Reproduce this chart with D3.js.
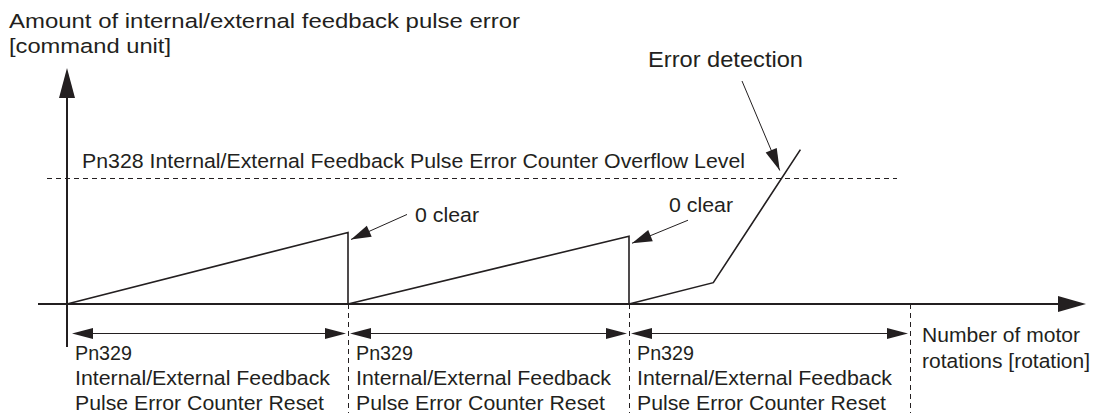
<!DOCTYPE html>
<html>
<head>
<meta charset="utf-8">
<script src="https://cdn.jsdelivr.net/npm/d3@7"></script>
<style>
  body { margin: 0; background: #fff; }
  svg text { font-family: "Liberation Sans", Arial, Helvetica, sans-serif; fill: #231f20; font-size: 20.5px; }
</style>
</head>
<body>
<div id="chart"></div>
<script>
// rotations (x) / pulse error in command units (y)
var resetPoints = [0, 1, 2, 3];
var errorX = [0, 1, 1, 2, 2, 2.3, 2.61];
var errorY = [0, 57, 0, 54, 0, 17, 123];
var overflowLevel = 100;
var clearPoints = [{x: 1, y: 57}, {x: 2, y: 54}];
var detectPoint = {x: 2.54, y: 100};

var yTitle = ["Amount of internal/external feedback pulse error", "[command unit]"];
var xTitle = ["Number of motor", "rotations [rotation]"];
var overflowLabel = "Pn328 Internal/External Feedback Pulse Error Counter Overflow Level";
var resetLabel = ["Pn329", "Internal/External Feedback", "Pulse Error Counter Reset"];

// measured text widths (the source font runs wider than Liberation Sans)
var yTitleW = [511, 162];
var xTitleW = [158, 168];
var resetLabelW = [57, 255, 249];

var width = 1100, height = 419;
var ink = "#231f20";

var x = d3.scaleLinear().domain([0, 3]).range([67, 910]);
var y = d3.scaleLinear().domain([0, 100]).range([304, 178.5]);

var svg = d3.select("#chart").append("svg")
  .attr("width", width)
  .attr("height", height);

/* filled arrow head pointing at (tx,ty) coming from (fx,fy) */
function arrowHead(g, fx, fy, tx, ty, len, half) {
  var a = Math.atan2(ty - fy, tx - fx);
  var bx = tx - len * Math.cos(a), by = ty - len * Math.sin(a);
  var px = -Math.sin(a) * half, py = Math.cos(a) * half;
  g.append("path")
    .attr("d", `M${tx},${ty}L${bx + px},${by + py}L${bx - px},${by - py}Z`)
    .attr("fill", ink);
}

function label(g, tx, ty, str, w) {
  return g.append("text")
    .attr("x", tx).attr("y", ty)
    .attr("textLength", w)
    .attr("lengthAdjust", "spacingAndGlyphs")
    .text(str);
}

/* Axes */
var axes = svg.append("g");
axes.append("line")
  .attr("x1", x(0)).attr("x2", x(0))
  .attr("y1", 347).attr("y2", y(180))
  .attr("stroke", ink).attr("stroke-width", 2);
arrowHead(axes, x(0), 300, x(0), 68, 30, 8);

axes.append("line")
  .attr("x1", 38).attr("x2", 1070)
  .attr("y1", y(0)).attr("y2", y(0))
  .attr("stroke", ink).attr("stroke-width", 2);
arrowHead(axes, 0, y(0), 1086, y(0), 28, 8);

yTitle.forEach((d, i) => label(axes, 9, 28 + i * 24.5, d, yTitleW[i]));
xTitle.forEach((d, i) => label(axes, 922, 342 + i * 26, d, xTitleW[i]));

/* Overflow level */
svg.append("line")
  .attr("x1", 47).attr("x2", 897)
  .attr("y1", y(overflowLevel)).attr("y2", y(overflowLevel))
  .attr("stroke", ink).attr("stroke-width", 1)
  .attr("stroke-dasharray", "5,4");

label(svg, 82, 168, overflowLabel, 663);

/* Error curve */
var line = d3.line()
  .x(d => x(d[0]))
  .y(d => y(d[1]));

svg.append("path")
  .attr("d", line(d3.zip(errorX, errorY)))
  .attr("fill", "none")
  .attr("stroke", ink)
  .attr("stroke-width", 1.6);

/* Reset intervals */
var resets = svg.append("g");
resets.selectAll(".vdash")
  .data(resetPoints.slice(1)).enter()
  .append("line")
  .attr("x1", d => x(d) + 0.5).attr("x2", d => x(d) + 0.5)
  .attr("y1", y(0)).attr("y2", 413)
  .attr("stroke", ink).attr("stroke-width", 1)
  .attr("stroke-dasharray", "5,4");

d3.pairs(resetPoints).forEach(function(p, i) {
  var x0 = x(p[0]) + (i === 0 ? 5 : 2), x1 = x(p[1]) - 2;
  var dy = 333.5;
  resets.append("line")
    .attr("x1", x0 + 15).attr("x2", x1 - 15)
    .attr("y1", dy).attr("y2", dy)
    .attr("stroke", ink).attr("stroke-width", 1);
  arrowHead(resets, x1, dy, x0, dy, 21, 5.5);
  arrowHead(resets, x0, dy, x1, dy, 21, 5.5);

  resetLabel.forEach((d, j) => label(resets, x(p[0]) + 8, 360 + j * 25, d, resetLabelW[j]));
});

/* 0 clear callouts */
var offsets = [{lx: 56, ly: -25, tx: 64, ty: -17}, {lx: 56, ly: -23, tx: 37, ty: -31}];
clearPoints.forEach(function(c, i) {
  var o = offsets[i];
  var tipX = x(c.x) + 3, tipY = y(c.y) + 7;
  var sx = tipX + o.lx, sy = tipY + o.ly;
  svg.append("line")
    .attr("x1", sx).attr("y1", sy)
    .attr("x2", tipX).attr("y2", tipY)
    .attr("stroke", ink).attr("stroke-width", 1);
  arrowHead(svg, sx, sy, tipX, tipY, 20, 6);
  label(svg, tipX + o.tx, tipY + o.ty, "0 clear", 64);
});

/* Error detection callout */
var dX = x(detectPoint.x) - 1, dY = y(detectPoint.y) - 8;
svg.append("line")
  .attr("x1", 742).attr("y1", 81)
  .attr("x2", dX).attr("y2", dY)
  .attr("stroke", ink).attr("stroke-width", 1);
arrowHead(svg, 742, 81, dX, dY, 22, 6);
label(svg, 648, 67, "Error detection", 155).style("font-size", "22px");
</script>
</body>
</html>
